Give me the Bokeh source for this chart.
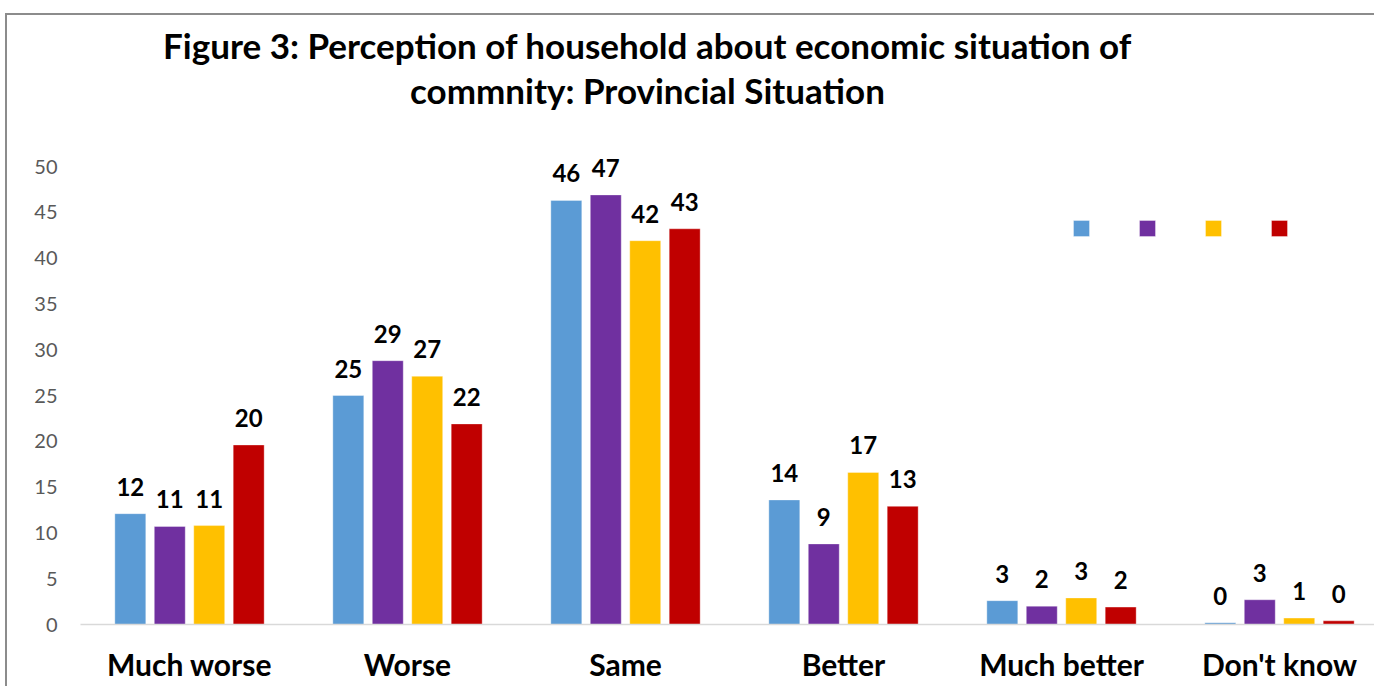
import numpy as np
from bokeh.plotting import figure
from bokeh.models import (ColumnDataSource, Range1d, FixedTicker, Legend, LegendItem,
                          Label)
from bokeh.transform import dodge
from bokeh.core.properties import value
from bokeh.embed import file_html
from bokeh.resources import INLINE

categories = ["Much worse", "Worse", "Same", "Better", "Much better", "Don't know"]
series_1 = [12.1, 25.0, 46.3, 13.6, 2.6, 0.2]
series_2 = [10.7, 28.8, 46.9, 8.8, 2.0, 2.7]
series_3 = [10.8, 27.1, 41.9, 16.6, 2.9, 0.7]
series_4 = [19.6, 21.9, 43.2, 12.9, 1.9, 0.4]
series_colors = ["#5b9bd5", "#7030a0", "#ffc000", "#c00000"]
y_ticks = [0, 5, 10, 15, 20, 25, 30, 35, 40, 45, 50]
title_lines = ["Figure 3: Perception of household about economic situation of",
               "commnity: Provincial Situation"]

FONT = "Lato"
all_series = [series_1, series_2, series_3, series_4]
xpos = np.arange(len(categories)) + 0.5

p = figure(width=1369, height=673, output_backend="svg", toolbar_location=None,
           x_range=Range1d(0, 1296 / 218), y_range=Range1d(0, 609 / 9.16),
           min_border_left=73, min_border_right=0, min_border_top=0,
           min_border_bottom=64)
p.title.text = ""
p.title.visible = False
p.outline_line_color = None
p.background_fill_color = "white"
p.border_fill_color = "white"
p.grid.visible = False
p.styles = {"margin-left": "5px", "margin-top": "13px",
            "border-left": "2px solid #8c8c8c", "border-top": "2px solid #8c8c8c"}

offsets = [-0.2715, -0.0905, 0.0905, 0.2715]
items = []
for vals, col, off in zip(all_series, series_colors, offsets):
    src = ColumnDataSource(dict(x=xpos, top=vals,
                                lab=["%.0f" % v for v in vals]))
    r = p.vbar(x=dodge("x", off, range=p.x_range), top="top", width=0.142,
               source=src, fill_color=col, line_color="white", line_alpha=0.35,
               line_width=1)
    p.text(x=dodge("x", off, range=p.x_range), y="top", text="lab", source=src,
           text_align="center", text_baseline="alphabetic", y_offset=-27,
           text_font=value(FONT), text_font_style="bold", text_font_size="24px",
           text_color="black")
    items.append(LegendItem(label=" ", renderers=[r]))

legend = Legend(items=items, orientation="horizontal", location=(991, 386),
                glyph_width=20, glyph_height=20, label_height=20, label_width=46,
                label_standoff=0, spacing=0, padding=0, margin=0,
                border_line_color=None, background_fill_alpha=0,
                label_text_font_size="8px")
p.add_layout(legend)

# axes
p.xaxis.ticker = FixedTicker(ticks=list(xpos))
p.xaxis.major_label_overrides = {float(x): c for x, c in zip(xpos, categories)}
p.xaxis.axis_line_color = "#d9d9d9"
p.xaxis.axis_line_width = 1.5
p.xaxis.major_tick_line_color = None
p.xaxis.major_tick_out = 0
p.xaxis.major_tick_in = 0
p.xaxis.minor_tick_line_color = None
p.xaxis.major_label_standoff = 21
p.xaxis.major_label_text_font = FONT
p.xaxis.major_label_text_font_style = "bold"
p.xaxis.major_label_text_font_size = "30px"
p.xaxis.major_label_text_color = "black"

p.yaxis.ticker = FixedTicker(ticks=y_ticks)
p.yaxis.axis_line_color = None
p.yaxis.major_tick_line_color = None
p.yaxis.major_tick_out = 0
p.yaxis.major_tick_in = 0
p.yaxis.minor_tick_line_color = None
p.yaxis.major_label_standoff = 23
p.yaxis.major_label_text_font = FONT
p.yaxis.major_label_text_font_size = "20px"
p.yaxis.major_label_text_color = "#595959"

# title (frame reaches the top of the canvas, so canvas units stay inside it)
for i, t in enumerate(title_lines):
    p.add_layout(Label(x=638, y=27 + 45 * i, x_units="canvas", y_units="canvas",
                       text=t, text_align="center", text_baseline="middle",
                       text_font=FONT, text_font_style="bold",
                       text_font_size="35px", text_color="black"))

open("out.html", "w").write(file_html(p, INLINE))
